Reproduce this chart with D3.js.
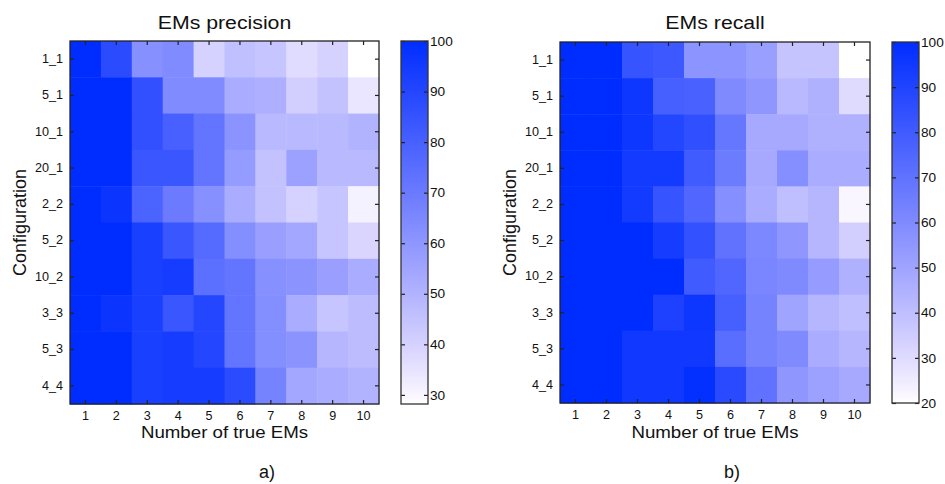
<!DOCTYPE html>
<html>
<head>
<meta charset="utf-8">
<script src="https://cdn.jsdelivr.net/npm/d3@7"></script>
<style>
  html, body { margin: 0; padding: 0; background: #fff; }
  svg { display: block; }
  text { font-family: "Liberation Sans", Arial, Helvetica, sans-serif; fill: #111; }
</style>
</head>
<body>
<svg id="chart" width="945" height="484"></svg>
<script>
// Row and column labels shared by both panels
const configurations = ["1_1", "5_1", "10_1", "20_1", "2_2", "5_2", "10_2", "3_3", "5_3", "4_4"];
const trueEMs = ["1", "2", "3", "4", "5", "6", "7", "8", "9", "10"];

// EMs precision (%), one row per configuration, one value per number of true EMs
const precision = [
  [100, 88, 62, 64, 40, 46, 44, 37, 40, 28.2],
  [100, 100, 86, 64, 64, 52, 51, 41, 45, 34],
  [100, 100, 86, 80, 72, 61, 48, 48, 48, 50],
  [100, 100, 84, 84, 72, 58, 45, 56, 48, 48],
  [100, 97, 79, 70, 62, 52, 45, 40, 44, 31],
  [100, 100, 93, 84, 76, 63, 57, 54, 44, 39],
  [100, 100, 93, 94, 74, 72, 62, 61, 57, 52],
  [100, 97, 93, 84, 90, 72, 63, 52, 44, 47],
  [100, 100, 93, 94, 90, 72, 63, 61, 49, 47],
  [100, 100, 93, 94, 94, 88, 67, 54, 52, 50]
];

// EMs recall (%)
const recall = [
  [100, 100, 83, 81, 56, 56, 52, 38, 38, 20],
  [100, 100, 96, 78, 77, 60, 55, 42, 45, 30],
  [100, 100, 96, 89, 85, 68, 48, 48, 45, 45],
  [100, 100, 94, 94, 80, 66, 48, 58, 47, 47],
  [100, 100, 94, 83, 75, 58, 47, 40, 43, 22],
  [100, 100, 100, 93, 84, 70, 61, 55, 43, 34],
  [100, 100, 100, 100, 80, 75, 62, 60, 53, 45],
  [100, 100, 100, 91, 96, 78, 63, 50, 43, 40],
  [100, 100, 95, 95, 95, 72, 63, 60, 47, 43],
  [100, 100, 95, 95, 99, 87, 70, 55, 51, 48]
];

// Colour-bar ranges and ticks
const precisionRange = [28.2, 100];
const recallRange = [20, 100];
const precisionTicks = [30, 40, 50, 60, 70, 80, 90, 100];
const recallTicks = [20, 30, 40, 50, 60, 70, 80, 90, 100];

const panels = [
  { title: "EMs precision", tag: "a)", values: precision, range: precisionRange, ticks: precisionTicks,
    x0: 70, x1: 379, y0: 41, y1: 404, cb0: 401, cb1: 428, ylabX: 26, tagX: 267 },
  { title: "EMs recall", tag: "b)", values: recall, range: recallRange, ticks: recallTicks,
    x0: 560, x1: 870, y0: 42, y1: 403, cb0: 892, cb1: 919, ylabX: 516, tagX: 732 }
];

const svg = d3.select("#chart");
const TICK = 4;
const SX = 1.12; // horizontal widening of the heading lettering
const SX_TICK = 1.05;

// white -> blue ramp; green fades a little faster than red so mid tones stay periwinkle
const whiteToBlue = t => {
  const r = 255 * (1 - t);
  const g = 255 - 210 * Math.pow(t, 0.85);
  return d3.rgb(r, g, 255).formatHex();
};

const widen = (sel, k) => sel.each(function () {
  const t = d3.select(this);
  const x = +t.attr("x") || 0;
  t.attr("x", x / k).attr("transform", `scale(${k},1)`);
});

panels.forEach(p => {
  const g = svg.append("g");
  const x = d3.scaleBand().domain(trueEMs).range([p.x0, p.x1]);
  const y = d3.scaleBand().domain(configurations).range([p.y0, p.y1]);
  const norm = d3.scaleLinear().domain(p.range).range([0, 1]).clamp(true);
  const color = v => whiteToBlue(norm(v));

  // heatmap cells
  const cells = [];
  p.values.forEach((row, i) => row.forEach((v, j) => cells.push({ r: configurations[i], c: trueEMs[j], v })));
  g.append("g").selectAll("rect").data(cells).join("rect")
    .attr("x", d => x(d.c)).attr("y", d => y(d.r))
    .attr("width", x.bandwidth() + 0.5).attr("height", y.bandwidth() + 0.5)
    .attr("fill", d => color(d.v));

  // axes with inward ticks on all four sides
  const styleAxis = (sel, fs) => {
    sel.select(".domain").remove();
    sel.selectAll(".tick line").attr("stroke", "#222").attr("stroke-width", 1.2);
    sel.selectAll(".tick text").attr("font-size", fs || 12).attr("fill", "#111")
      .attr("font-family", "'Liberation Sans', Arial, sans-serif")
      .call(widen, SX_TICK);
  };
  g.append("g").attr("transform", `translate(0,${p.y1})`)
    .call(d3.axisBottom(x).tickSizeInner(-TICK).tickSizeOuter(0).tickPadding(7)).call(styleAxis);
  g.append("g").attr("transform", `translate(0,${p.y0})`)
    .call(d3.axisTop(x).tickSizeInner(-TICK).tickSizeOuter(0).tickFormat("")).call(styleAxis);
  g.append("g").attr("transform", `translate(${p.x0},0)`)
    .call(d3.axisLeft(y).tickSizeInner(-TICK).tickSizeOuter(0).tickPadding(7)).call(styleAxis);
  g.append("g").attr("transform", `translate(${p.x1},0)`)
    .call(d3.axisRight(y).tickSizeInner(-TICK).tickSizeOuter(0).tickFormat("")).call(styleAxis);

  g.append("rect").attr("x", p.x0).attr("y", p.y0)
    .attr("width", p.x1 - p.x0).attr("height", p.y1 - p.y0)
    .attr("fill", "none").attr("stroke", "#222").attr("stroke-width", 1.3);

  // colour bar
  const cy = d3.scaleLinear().domain(p.range).range([p.y1, p.y0]);
  const steps = d3.range(p.y0, p.y1, 1);
  g.append("g").selectAll("rect").data(steps).join("rect")
    .attr("x", p.cb0).attr("y", d => d).attr("width", p.cb1 - p.cb0).attr("height", 1.2)
    .attr("fill", d => color(cy.invert(d + 0.5)));
  g.append("g").attr("transform", `translate(${p.cb1},0)`)
    .call(d3.axisRight(cy).tickValues(p.ticks).tickSizeInner(-TICK).tickSizeOuter(0).tickPadding(2))
    .call(styleAxis, 13);
  g.append("g").attr("transform", `translate(${p.cb0},0)`)
    .call(d3.axisLeft(cy).tickValues(p.ticks).tickSizeInner(-TICK).tickSizeOuter(0).tickFormat(""))
    .call(styleAxis);
  g.append("rect").attr("x", p.cb0).attr("y", p.y0)
    .attr("width", p.cb1 - p.cb0).attr("height", p.y1 - p.y0)
    .attr("fill", "none").attr("stroke", "#333").attr("stroke-width", 1.3);

  // titles and labels
  const cx = (p.x0 + p.x1) / 2;
  g.append("text").attr("transform", `translate(${cx},29) scale(${SX},1)`)
    .attr("text-anchor", "middle").attr("font-size", 19).text(p.title);
  g.append("text").attr("transform", `translate(${cx},438) scale(1.1,1)`)
    .attr("text-anchor", "middle").attr("font-size", 17).text("Number of true EMs");
  g.append("text").attr("transform", `translate(${p.ylabX},${(p.y0 + p.y1) / 2}) rotate(-90)`)
    .attr("text-anchor", "middle").attr("font-size", 18).text("Configuration");
  g.append("text").attr("x", p.tagX).attr("y", 478).attr("text-anchor", "middle")
    .attr("font-family", "'Liberation Serif', 'Times New Roman', serif")
    .attr("font-size", 18).text(p.tag);
});
</script>
</body>
</html>
